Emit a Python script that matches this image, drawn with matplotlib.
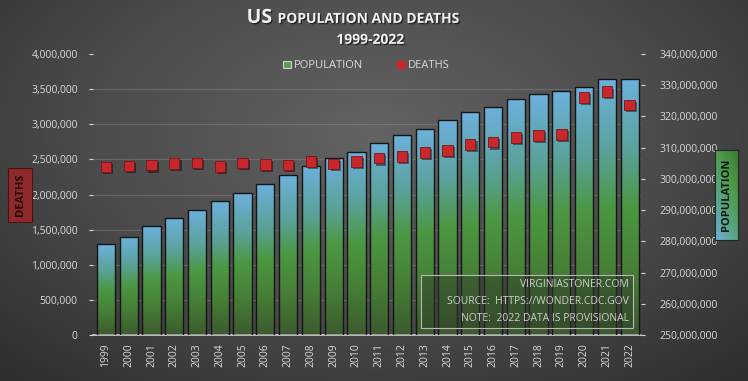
import numpy as np
import matplotlib
matplotlib.use("Agg")
import matplotlib.pyplot as plt
import matplotlib.patheffects as pe
from matplotlib.colors import LinearSegmentedColormap
from matplotlib.patches import Rectangle
from matplotlib.ticker import FuncFormatter

# data (CDC WONDER)
years = [str(y) for y in range(1999, 2023)]
population = [279.0e6, 281.4e6, 284.9e6, 287.6e6, 290.1e6, 292.8e6, 295.5e6, 298.4e6,
              301.2e6, 304.1e6, 306.8e6, 308.7e6, 311.6e6, 313.9e6, 316.1e6, 318.9e6,
              321.4e6, 323.1e6, 325.7e6, 327.2e6, 328.2e6, 329.5e6, 331.9e6, 331.9e6]
deaths = [2391399, 2403351, 2416425, 2443387, 2448288, 2397615, 2448017, 2426264,
          2423712, 2471984, 2437163, 2468435, 2515458, 2543279, 2596993, 2626418,
          2712630, 2744248, 2813503, 2839205, 2854838, 3383729, 3464231, 3273705]
deaths_ticks = [0, 500000, 1000000, 1500000, 2000000, 2500000, 3000000, 3500000, 4000000]
pop_ticks = [250e6, 260e6, 270e6, 280e6, 290e6, 300e6, 310e6, 320e6, 330e6, 340e6]
notes = ["VIRGINIASTONER.COM", "SOURCE:  HTTPS://WONDER.CDC.GOV", "NOTE:  2022 DATA IS PROVISIONAL"]

FONT = "Open Sans"
TXT = "#d9d9d9"

fig = plt.figure(figsize=(7.48, 3.81), dpi=100)

# background radial gradient
bg = fig.add_axes([0, 0, 1, 1], zorder=-10)
yy, xx = np.mgrid[0:1:381j, 0:1:748j]
r = np.sqrt(((xx - 0.5) / 0.75) ** 2 + ((yy - 0.35) / 0.9) ** 2)
bg_cmap = LinearSegmentedColormap.from_list("bg", ["#636363", "#4c4c4c", "#2e2e2e"])
bg.imshow(np.clip(r, 0, 1), cmap=bg_cmap, aspect="auto", extent=[0, 1, 0, 1], origin="upper")
bg.axis("off")

# population axis (bars) underneath, deaths axis on top
ax = fig.add_axes([93 / 748, 1 - 335 / 381, 548 / 748, 281 / 381])
ax.set_facecolor("none")
axd = ax.twinx()

x = np.arange(len(years))
bars = ax.bar(x, np.array(population) - 250e6, width=0.8, bottom=250e6,
              facecolor="none", edgecolor="#151515", linewidth=1.0, zorder=3)

bar_cmap = LinearSegmentedColormap.from_list(
    "bar", [(0, "#3c5a2e"), (0.25, "#467e36"), (0.5, "#4c9742"), (0.72, "#5aa29a"), (1.0, "#6db1de")])
grad = np.linspace(0, 1, 256).reshape(-1, 1)
for b in bars:
    x0, w = b.get_x(), b.get_width()
    y0, h = b.get_y(), b.get_height()
    im = ax.imshow(grad, cmap=bar_cmap, origin="lower", aspect="auto",
                   extent=[x0, x0 + w, y0, y0 + h], zorder=2)
    im.set_clip_path(b)

ax.set_xlim(-0.57, 23.5)
ax.set_ylim(250e6, 340e6)
ax.yaxis.tick_right()
ax.set_yticks(pop_ticks)
ax.yaxis.set_major_formatter(FuncFormatter(lambda v, p: f"{int(v):,}"))
# horizontal grid lines follow the deaths scale
ax.set_yticks(np.linspace(250e6, 340e6, len(deaths_ticks)), minor=True)
ax.grid(which="minor", axis="y", color="#8a8a8a", linewidth=0.8, alpha=0.45, zorder=0)
ax.tick_params(axis="y", which="minor", length=0)
ax.tick_params(axis="y", which="major", colors=TXT, labelsize=7.5, length=3, pad=10)
ax.set_xticks(x)
ax.set_xticklabels(years, rotation=90)
ax.tick_params(axis="x", colors=TXT, labelsize=7.5, length=0, pad=6)
for lab in ax.get_xticklabels() + ax.get_yticklabels():
    lab.set_family(FONT)
for s in ["top", "left", "right"]:
    ax.spines[s].set_visible(False)
ax.spines["bottom"].set_color("#d0d0d0")
ax.spines["bottom"].set_linewidth(1.2)

# deaths markers
axd.plot(x, deaths, "s", ms=7.5, mfc="#c8272c", mec="#7a1518", mew=0.6, zorder=5,
         path_effects=[pe.SimplePatchShadow(offset=(1.5, -1.5), shadow_rgbFace="black", alpha=0.45),
                       pe.Normal()])
axd.set_ylim(0, 4000000)
axd.yaxis.tick_left()
axd.set_yticks(deaths_ticks)
axd.yaxis.set_major_formatter(FuncFormatter(lambda v, p: f"{int(v):,}"))
axd.tick_params(axis="y", colors=TXT, labelsize=7.5, length=3, pad=8)
for lab in axd.get_yticklabels():
    lab.set_family(FONT)
for s in axd.spines.values():
    s.set_visible(False)

# source note box
axd.add_patch(Rectangle((0.599, 0.025), 0.386, 0.189, transform=axd.transAxes,
                        facecolor="#2f3a2a", alpha=0.45, edgecolor="none", zorder=6))
axd.add_patch(Rectangle((0.599, 0.025), 0.386, 0.189, transform=axd.transAxes,
                        facecolor="none", edgecolor="#b8b8b8", linewidth=0.8, zorder=7))
for i, line in enumerate(notes):
    axd.text(0.978, 0.178 - i * 0.059, line, transform=axd.transAxes, ha="right", va="center",
             fontsize=7.5, color="#cfcfcf", family=FONT, zorder=8)

# title
shadow = [pe.withSimplePatchShadow(offset=(1, -1), shadow_rgbFace="black", alpha=0.5)]
fig.text(0.364, 0.94, "US", ha="right", va="baseline", fontsize=14, weight="bold",
         color="#f2f2f2", family=FONT, path_effects=shadow)
fig.text(0.371, 0.94, "POPULATION AND DEATHS", ha="left", va="baseline", fontsize=10,
         weight="bold", color="#f2f2f2", family=FONT, path_effects=shadow)
fig.text(0.495, 0.885, "1999-2022", ha="center", va="baseline", fontsize=10, weight="bold",
         color="#f2f2f2", family=FONT, path_effects=shadow)

# legend
handles = [Rectangle((0, 0), 1, 1, facecolor="#5f9a5a", edgecolor="#c8d8c0", linewidth=0.8),
           Rectangle((0, 0), 1, 1, facecolor="#c8272c", edgecolor="#c8272c")]
leg = fig.legend(handles, ["POPULATION", "DEATHS"], loc="center", bbox_to_anchor=(0.49, 0.827),
                 ncol=2, frameon=False, handlelength=0.7, handleheight=0.7,
                 handletextpad=0.3, columnspacing=3.0, prop={"family": FONT, "size": 8})
for t in leg.get_texts():
    t.set_color(TXT)

# axis title boxes
fig.text(20 / 748, 1 - 195 / 381, "DEATHS", rotation=90, ha="center", va="center",
         fontsize=8, weight="bold", color="#2a0808", family=FONT,
         bbox=dict(boxstyle="square,pad=0.55", facecolor="#8e2a2c", edgecolor="#4a1212", linewidth=0.8))

lab_ax = fig.add_axes([715 / 748, 1 - 240 / 381, 23 / 748, 90 / 381])
gy, gx = np.mgrid[0:1:90j, 0:1:23j]
lab_cmap = LinearSegmentedColormap.from_list("lab", ["#6aaede", "#5aa58c", "#4e9a48", "#3f7a35"])
lab_ax.imshow((1 - gy) * 0.6 + gx * 0.4, cmap=lab_cmap, aspect="auto", origin="upper")
lab_ax.set_xticks([])
lab_ax.set_yticks([])
for s in lab_ax.spines.values():
    s.set_color("#1e2a1a")
    s.set_linewidth(0.8)
lab_ax.text(0.5, 0.5, "POPULATION", rotation=90, ha="center", va="center", transform=lab_ax.transAxes,
            fontsize=8, weight="bold", color="#0e1a0c", family=FONT)

fig.savefig("out.png", dpi=100)
